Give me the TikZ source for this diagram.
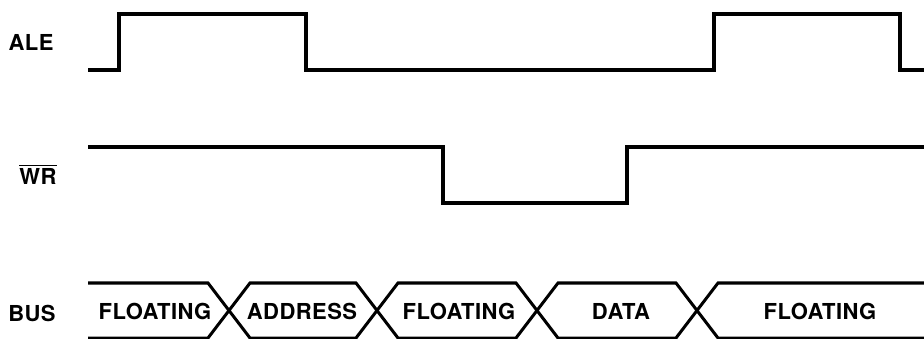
\documentclass[tikz,border=0pt]{standalone}
\usepackage{fontspec}
\newfontfamily\sigfont[LetterSpace=2]{TeX Gyre Heros Bold}
\newcommand\barred[1]{\setbox0\hbox{#1}\vbox{\hrule width\wd0 height1.1pt\kern3pt\box0}}
\usetikzlibrary{positioning}

\begin{document}
\begin{tikzpicture}[x=1pt, y=-1pt,
                    wave/.style={line width=3.6pt, line join=miter, line cap=butt},
                    busline/.style={line width=3pt, line join=miter},
                    sig/.style={font=\sigfont\fontsize{22}{26}\selectfont, inner sep=0pt}]
\useasboundingbox (0,0) rectangle (924,339);
\node[sig] (ale) at (31,42) {ALE};
\node[sig, anchor=base] (wr) at (38,185) {\barred{WR}};
\node[sig] (bus) at (32,313) {BUS};
\draw[wave] (88,70) -- (119,70) -- (119,14) -- (306,14) -- (306,70) -- (714,70)
  -- (714,14) -- (900,14) -- (900,70) -- (924,70);
\draw[wave] (88,147) -- (443,147) -- (443,203) -- (627,203) -- (627,147) -- (924,147);
\draw[busline] (88,283) -- (208,283) -- (250,338) -- (356,338) -- (398,283) -- (516,283)
  -- (558,338) -- (676,338) -- (718,283) -- (924,283);
\draw[busline] (88,338) -- (208,338) -- (250,283) -- (356,283) -- (398,338) -- (516,338)
  -- (558,283) -- (676,283) -- (718,338) -- (924,338);
\node[sig] (float1) at (155,311) {FLOATING};
\node[sig] (addr) at (302,311) {ADDRESS};
\node[sig] (float2) at (459,311) {FLOATING};
\node[sig] (data) at (621,311) {DATA};
\node[sig] (float3) at (820,311) {FLOATING};
\end{tikzpicture}
\end{document}
